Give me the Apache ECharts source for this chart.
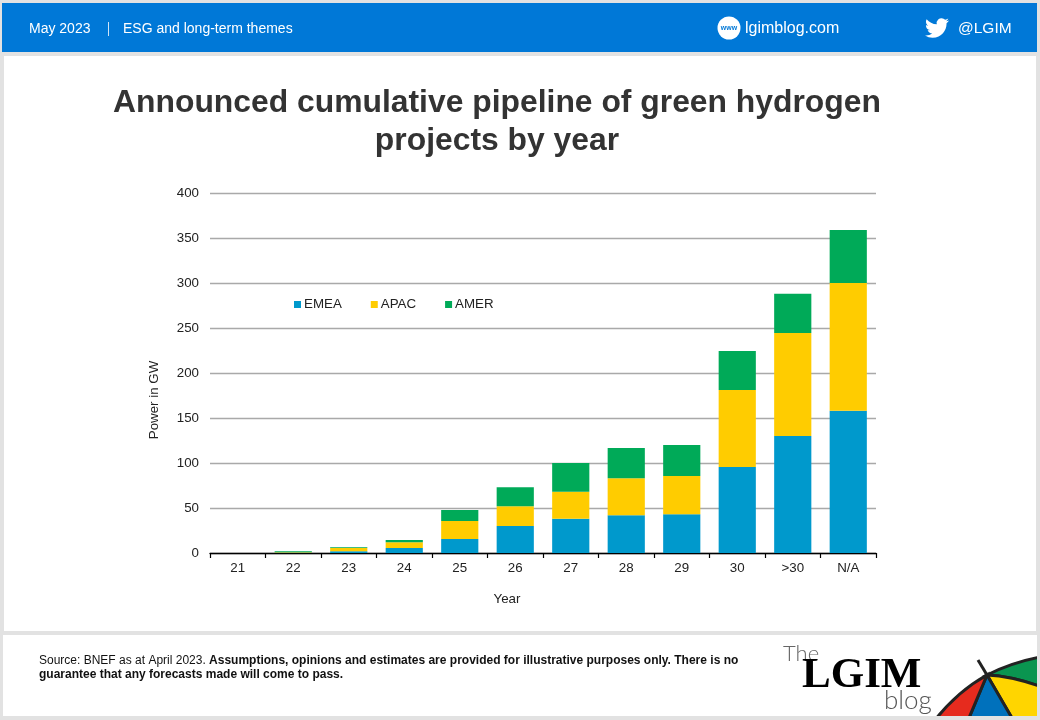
<!DOCTYPE html>
<html><head><meta charset="utf-8">
<style>html,body{margin:0;padding:0;background:#e2e2e2}#c{width:1040px;height:720px}</style>
<script src="https://cdn.jsdelivr.net/npm/echarts@6/dist/echarts.min.js"></script>
</head><body><div id="c"></div>
<script>
const categories = ['21','22','23','24','25','26','27','28','29','30','>30','N/A'];
const emea = [0, 0.3, 2, 5.5, 15.5, 30, 38, 42, 43, 95.5, 130, 158];
const apac = [0, 0.5, 3.5, 6.5, 20, 22, 30, 41, 42.5, 85.5, 114.5, 142];
const amer = [0, 1.2, 1, 2.4, 12.3, 21, 32, 33.7, 34.5, 43.5, 43.5, 59];
const titleLines = 'Announced cumulative pipeline of green hydrogen\nprojects by year';
const F = '"Liberation Sans", Arial, sans-serif';
const bird = 'M23.953 4.57a10 10 0 0 1 -2.825 .775 4.958 4.958 0 0 0 2.163 -2.723c-.951 .555 -2.005 .959 -3.127 1.184a4.92 4.92 0 0 0 -8.384 4.482C7.69 8.095 4.067 6.13 1.64 3.162a4.822 4.822 0 0 0 -.666 2.475c0 1.71 .87 3.213 2.188 4.096a4.904 4.904 0 0 1 -2.228 -.616v.06a4.923 4.923 0 0 0 3.946 4.827 4.996 4.996 0 0 1 -2.212 .085 4.936 4.936 0 0 0 4.604 3.417 9.867 9.867 0 0 1 -6.102 2.105c-.39 0 -.779 -.023 -1.17 -.067a13.995 13.995 0 0 0 7.557 2.209c9.053 0 13.998 -7.496 13.998 -13.985 0 -.21 0 -.42 -.015 -.63A9.935 9.935 0 0 0 24 4.59z';

function shapeOf(name,d){echarts.graphic.registerShape(name,echarts.graphic.extendPath(d,{}));return name;}
function rect(x,y,w,h,fill,z){return {type:'rect',silent:true,z:z||-10,shape:{x,y,width:w,height:h},style:{fill}};}
function txt(x,y,text,size,extra){return {type:'text',silent:true,z:5,x,y,style:Object.assign({text,fill:'#fff',font:size+'px '+F,textVerticalAlign:'middle'},extra||{})};}
function panel(name,d,fill){return {type:shapeOf(name,d),silent:true,z:3,style:{fill,stroke:'#222',lineWidth:3}};}

const chart = echarts.init(document.getElementById('c'), null, {renderer:'canvas'});
chart.setOption({
  animation:false,
  backgroundColor:'#e2e2e2',
  color:['#0099cc','#ffcc00','#00aa58'],
  title:{text:titleLines,left:492,top:79,textAlign:'center',z:6,
    textStyle:{fontFamily:F,fontSize:31.85,fontWeight:'bold',color:'#333',lineHeight:38}},
  legend:{left:289,top:293,itemWidth:7,itemHeight:7,itemGap:29,icon:'rect',
    data:['EMEA','APAC','AMER'],textStyle:{fontFamily:F,fontSize:13.33,color:'#222',padding:[0,0,0,-2]}},
  grid:{left:210,top:193,width:666,height:360,containLabel:false},
  xAxis:{type:'category',data:categories,name:'Year',nameLocation:'middle',nameGap:40,
    nameTextStyle:{fontFamily:F,fontSize:13.33,color:'#222',padding:[0,72,0,0]},
    axisLine:{lineStyle:{color:'#000',width:1.3}},axisTick:{show:true,length:5,lineStyle:{color:'#000',width:1.2},alignWithLabel:false},
    axisLabel:{fontFamily:F,fontSize:13.33,color:'#222',margin:9,interval:0}},
  yAxis:{type:'value',min:0,max:400,interval:50,name:'Power in GW',nameLocation:'middle',nameGap:49,
    nameTextStyle:{fontFamily:F,fontSize:13.33,color:'#222',padding:[0,54,0,0]},
    axisLine:{show:false},axisTick:{show:false},
    axisLabel:{fontFamily:F,fontSize:13.33,color:'#222',margin:11,padding:[2,0,0,0]},
    splitLine:{lineStyle:{color:'#a9a9a9',width:1.3}}},
  series:[
    {name:'EMEA',type:'bar',stack:'t',data:emea,barCategoryGap:'33%'},
    {name:'APAC',type:'bar',stack:'t',data:apac},
    {name:'AMER',type:'bar',stack:'t',data:amer}
  ],
  graphic:{elements:[
    rect(2,3,1035,49,'#0078d7'),
    rect(4,56,1032,575,'#ffffff'),
    rect(3,635,1034,81,'#ffffff'),
    txt(29,29,'May 2023',14),
    {type:'rect',silent:true,z:5,shape:{x:108,y:22,width:1,height:14},style:{fill:'#cfe4f7'}},
    txt(123,29,'ESG and long-term themes',14),
    {type:'circle',silent:true,z:5,shape:{cx:729,cy:28,r:11.5},style:{fill:'#fff'}},
    txt(729,28,'www',7,{fill:'#0078d7',textAlign:'center',font:'bold 7px '+F}),
    txt(745,29,'lgimblog.com',16),
    {type:shapeOf('lgBird',bird),silent:true,z:5,x:925,y:16,style:{fill:'#fff'}},
    txt(958,29,'@LGIM',15.5),
    {type:'text',silent:true,z:5,x:39,y:661,style:{font:'12px '+F,fill:'#111',textVerticalAlign:'middle',
      text:'{r|Source: BNEF as at April 2023. }{b|Assumptions, opinions and estimates are provided for illustrative purposes only. There is no}',
      rich:{r:{font:'12px '+F,fill:'#111'},b:{font:'bold 12px '+F,fill:'#111'}}}},
    txt(39,675,'guarantee that any forecasts made will come to pass.',12,{font:'bold 12px '+F,fill:'#111'}),
    txt(783,654,'The',22,{font:'300 22px Lato, sans-serif',fill:'#666'}),
    txt(802,676,'LGIM',43,{font:'bold 43px "Liberation Serif", serif',fill:'#000'}),
    txt(884,701,'blog',26,{font:'300 26px Lato, sans-serif',fill:'#555'}),
    panel('lgGreen','M987 675 Q1012 662 1045 656 L1045 688 Q1012 676 987 675 Z','#0a9550'),
    panel('lgYellow','M987 675 Q1012 676 1045 688 L1045 725 L1016 725 Z','#ffd500'),
    panel('lgBlue','M987 675 L1016 725 L966 725 Z','#0071bc'),
    panel('lgRed','M987 675 L966 725 L931 725 Q956 692 987 675 Z','#e62b1e'),
    rect(1037,635,3,85,'#e2e2e2',4),
    rect(900,716,140,4,'#e2e2e2',4),
    {type:'line',silent:true,z:4,shape:{x1:978,y1:660,x2:987,y2:675},style:{stroke:'#222',lineWidth:3}}
  ]}
});
</script></body></html>
